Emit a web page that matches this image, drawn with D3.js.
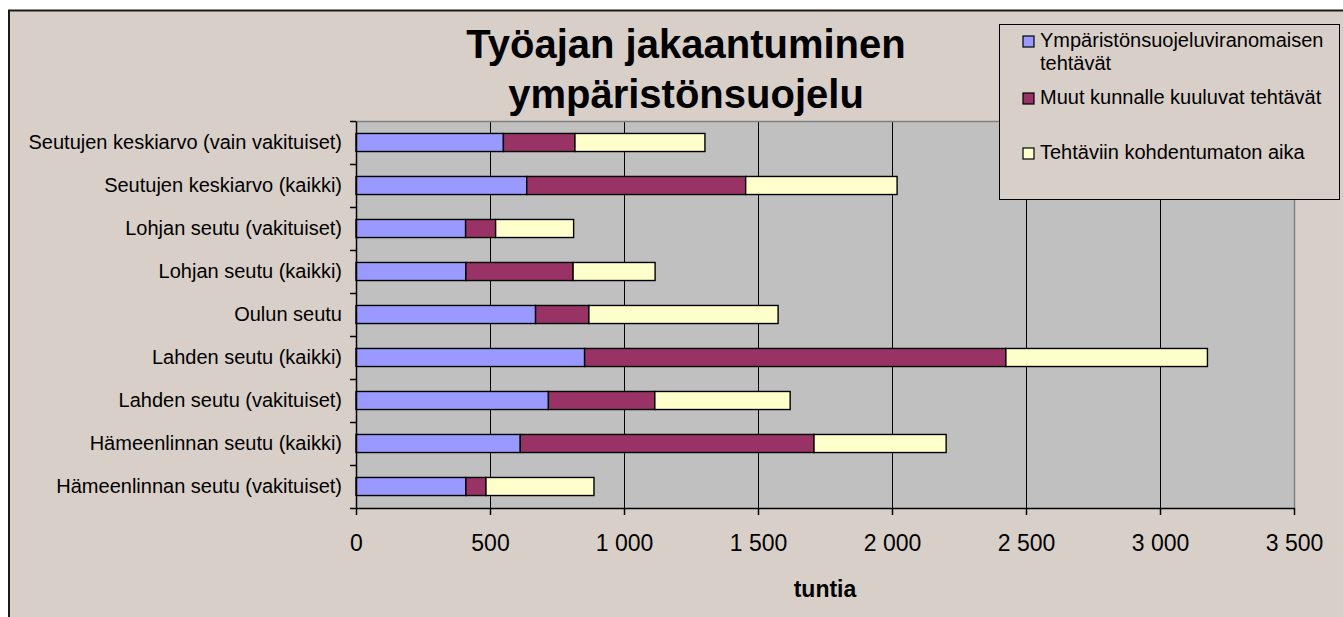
<!DOCTYPE html>
<html>
<head>
<meta charset="utf-8">
<script src="https://cdn.jsdelivr.net/npm/d3@7"></script>
<style>
  body { margin: 0; background: #ffffff; }
  svg { display: block; }
  .axis text { font-family: "Liberation Sans", Arial, sans-serif; fill: #000; }
</style>
</head>
<body>
<script>
// data (tuntia)
var kategoriat = [
  "Seutujen keskiarvo (vain vakituiset)",
  "Seutujen keskiarvo (kaikki)",
  "Lohjan seutu (vakituiset)",
  "Lohjan seutu (kaikki)",
  "Oulun seutu",
  "Lahden seutu (kaikki)",
  "Lahden seutu (vakituiset)",
  "Hämeenlinnan seutu (kaikki)",
  "Hämeenlinnan seutu (vakituiset)"
];
var sarjat = [
  "Ympäristönsuojeluviranomaisen tehtävät",
  "Muut kunnalle kuuluvat tehtävät",
  "Tehtäviin kohdentumaton aika"
];
var viranomainen = [550, 637, 409, 410, 670, 853, 718, 613, 410];
var muut         = [267, 817, 112, 400, 199, 1572, 397, 1096, 75];
var kohdentumaton = [485, 565, 291, 306, 706, 752, 505, 493, 403];
var xTicks = [0, 500, 1000, 1500, 2000, 2500, 3000, 3500];

var svgW = 1343;
var svgH = 617;
var plotL = 356, plotR = 1294, plotT = 121, plotB = 508;

var varit = d3.scaleOrdinal()
              .domain(sarjat)
              .range(["#9999FF", "#993366", "#FFFFCC"]);

var taulu = kategoriat.map(function (k, i) {
  var r = { kategoria: k };
  r[sarjat[0]] = viranomainen[i];
  r[sarjat[1]] = muut[i];
  r[sarjat[2]] = kohdentumaton[i];
  return r;
});

var pinot = d3.stack().keys(sarjat)(taulu);

var svg = d3.select("body")
            .append("svg")
            .attr("width", svgW)
            .attr("height", svgH);

// chart frame
svg.append("rect")
   .attr("x", 9).attr("y", 10.5)
   .attr("width", svgW + 20).attr("height", svgH + 20)
   .attr("fill", "#D8CFC9")
   .attr("stroke", "#1a1a1a")
   .attr("stroke-width", 2);

// plot area
svg.append("rect")
   .attr("x", plotL).attr("y", plotT)
   .attr("width", plotR - plotL).attr("height", plotB - plotT)
   .attr("fill", "#C0C0C0");

var xScale = d3.scaleLinear()
               .domain([0, 3500])
               .range([plotL, plotR]);

var yScale = d3.scaleBand()
               .domain(kategoriat)
               .range([plotT, plotB])
               .paddingInner(0.58)
               .paddingOuter(0.29);

var yEdge = d3.scaleLinear()
              .domain([0, kategoriat.length])
              .range([plotT, plotB]);

var fi = d3.formatLocale({ decimal: ",", thousands: " ", grouping: [3], currency: ["", " €"] });

// gridlines
svg.append("g")
   .selectAll("line")
   .data(xTicks.filter(function (d) { return d > 0 && d < 3500; }))
   .enter()
   .append("line")
   .attr("x1", function (d) { return Math.round(xScale(d)) + 0.5; })
   .attr("x2", function (d) { return Math.round(xScale(d)) + 0.5; })
   .attr("y1", plotT)
   .attr("y2", plotB)
   .attr("stroke", "#000")
   .attr("stroke-width", 1);

// plot border top/right
svg.append("path")
   .attr("d", "M" + plotL + "," + (plotT + 0.5) + "H" + (plotR + 0.5) + "V" + plotB)
   .attr("fill", "none")
   .attr("stroke", "#808080")
   .attr("stroke-width", 1.5);

// bars
svg.append("g")
   .selectAll("g")
   .data(pinot)
   .enter()
   .append("g")
   .attr("fill", function (d) { return varit(d.key); })
   .selectAll("rect")
   .data(function (d) { return d; })
   .enter()
   .append("rect")
   .attr("x", function (d) { return xScale(d[0]); })
   .attr("y", function (d) { return yScale(d.data.kategoria); })
   .attr("width", function (d) { return xScale(d[1]) - xScale(d[0]); })
   .attr("height", yScale.bandwidth())
   .attr("stroke", "#000")
   .attr("stroke-width", 1.4);

// x axis
var xAxis = d3.axisBottom(xScale)
              .tickValues(xTicks)
              .tickSizeInner(7)
              .tickSizeOuter(0)
              .tickPadding(20)
              .tickFormat(fi.format(",d"));

svg.append("g")
   .attr("class", "axis")
   .attr("transform", "translate(0," + plotB + ")")
   .call(xAxis)
   .call(function (g) {
     g.selectAll("text").attr("font-size", "23px");
     g.selectAll("line,path").attr("stroke", "#000").attr("stroke-width", 1.5);
   });

// y axis ticks between categories
svg.append("g")
   .attr("transform", "translate(" + plotL + ",0)")
   .call(d3.axisLeft(yEdge).ticks(kategoriat.length).tickFormat("").tickSizeInner(6).tickSizeOuter(0))
   .call(function (g) { g.selectAll("line,path").attr("stroke", "#000").attr("stroke-width", 1.5); });

// y axis labels
svg.append("g")
   .attr("class", "axis")
   .attr("transform", "translate(" + plotL + ",0)")
   .call(d3.axisLeft(yScale).tickSize(0).tickPadding(14))
   .call(function (g) {
     g.select(".domain").remove();
     g.selectAll("text").attr("font-size", "20px");
   });

// axis title
svg.append("text")
   .attr("x", (plotL + plotR) / 2)
   .attr("y", 597)
   .attr("text-anchor", "middle")
   .attr("font-family", "Liberation Sans, Arial, sans-serif")
   .attr("font-weight", "bold")
   .attr("font-size", "23px")
   .text("tuntia");

// chart title
var otsikko = ["Työajan jakaantuminen", "ympäristönsuojelu"];
svg.append("g")
   .selectAll("text")
   .data(otsikko)
   .enter()
   .append("text")
   .attr("x", 686)
   .attr("y", function (d, i) { return 58 + i * 50; })
   .attr("text-anchor", "middle")
   .attr("font-family", "Liberation Sans, Arial, sans-serif")
   .attr("font-weight", "bold")
   .attr("font-size", "40px")
   .text(function (d) { return d; });

// legend
var legend = svg.append("g");
legend.append("rect")
      .attr("x", 999.5).attr("y", 24.5)
      .attr("width", 340).attr("height", 175)
      .attr("fill", "#D8CFC9")
      .attr("stroke", "#000")
      .attr("stroke-width", 1);

var legendRivit = [
  { sarja: sarjat[0], y: 47, rivit: ["Ympäristönsuojeluviranomaisen", "tehtävät"] },
  { sarja: sarjat[1], y: 104, rivit: ["Muut kunnalle kuuluvat tehtävät"] },
  { sarja: sarjat[2], y: 159, rivit: ["Tehtäviin kohdentumaton aika"] }
];

var li = legend.selectAll(".li")
               .data(legendRivit)
               .enter()
               .append("g")
               .attr("class", "li");

li.append("rect")
  .attr("x", 1023).attr("y", function (d) { return d.y - 11; })
  .attr("width", 11).attr("height", 11)
  .attr("fill", function (d) { return varit(d.sarja); })
  .attr("stroke", "#000")
  .attr("stroke-width", 1.2);

li.append("text")
  .attr("font-family", "Liberation Sans, Arial, sans-serif")
  .attr("font-size", "20px")
  .attr("fill", "#000")
  .selectAll("tspan")
  .data(function (d) { return d.rivit.map(function (r, i) { return { t: r, y: d.y + i * 23 }; }); })
  .enter()
  .append("tspan")
  .attr("x", 1040)
  .attr("y", function (d) { return d.y; })
  .text(function (d) { return d.t; });
</script>
</body>
</html>
